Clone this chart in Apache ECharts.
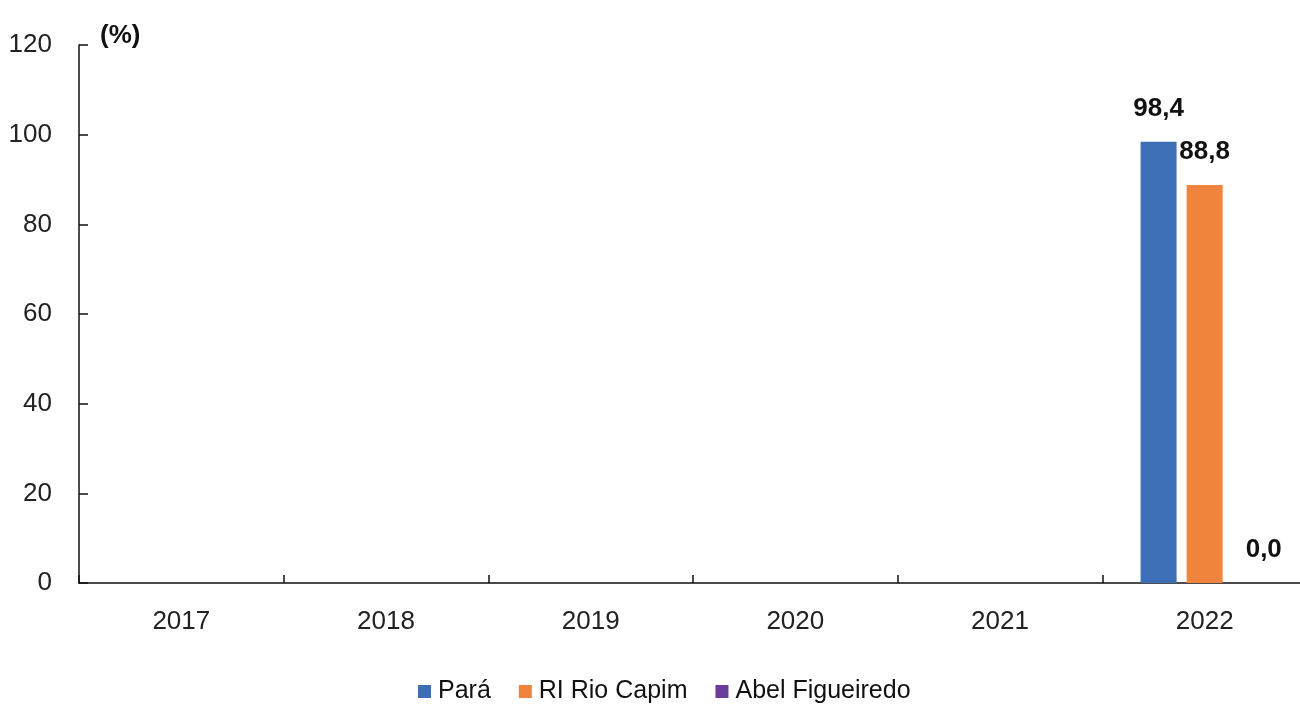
<!DOCTYPE html>
<html><head><meta charset="utf-8">
<script src="https://cdn.jsdelivr.net/npm/echarts@6/dist/echarts.min.js"></script>
<style>html,body{margin:0;padding:0;background:#fff}#c{width:1300px;height:706px}</style>
</head><body><div id="c"></div>
<script>
const categories = ['2017','2018','2019','2020','2021','2022'];
const para = [null,null,null,null,null,98.4];
const riRioCapim = [null,null,null,null,null,88.8];
const abelFigueiredo = [null,null,null,null,null,0.0];
const yTicks = [0,20,40,60,80,100,120];

const FONT = '"Liberation Sans",Arial,sans-serif';
const fmt = p => p.value == null ? '' : p.value.toFixed(1).replace('.', ',');
const lbl = (extra) => Object.assign({show:true, position:'top', distance:20, formatter:fmt,
  fontFamily:FONT, fontWeight:'bold', fontSize:26, color:'#111'}, extra||{});

const chart = echarts.init(document.getElementById('c'), null, {renderer:'canvas'});
chart.setOption({
  animation:false,
  grid:{left:79, width:1228, top:45, height:538, containLabel:false, outerBoundsMode:'none'},
  legend:{top:674, left:413, itemWidth:13, itemHeight:13, itemGap:28, icon:'rect',
    textStyle:{fontFamily:FONT, fontSize:25, color:'#111', padding:[0,0,0,2]},
    data:['Pará','RI Rio Capim','Abel Figueiredo']},
  xAxis:{type:'category', data:categories,
    axisLine:{lineStyle:{color:'#111', width:1.5}},
    axisTick:{show:true, inside:true, length:8, alignWithLabel:false, interval:0, lineStyle:{color:'#111', width:1.5}},
    axisLabel:{fontFamily:FONT, fontSize:26, color:'#222', margin:26}},
  yAxis:{type:'value', min:yTicks[0], max:yTicks[yTicks.length-1], interval:20,
    name:'(%)', nameLocation:'end', nameGap:-4,
    nameTextStyle:{fontFamily:FONT, fontWeight:'bold', fontSize:26, color:'#111', align:'left', padding:[0,0,0,21]},
    splitLine:{show:false},
    axisLine:{show:true, lineStyle:{color:'#111', width:1.5}},
    axisTick:{show:true, inside:true, length:9, lineStyle:{color:'#111', width:1.5}},
    axisLabel:{fontFamily:FONT, fontSize:26, color:'#222', margin:27}},
  series:[
    {name:'Pará', type:'bar', data:para, barWidth:36, barGap:'28%', itemStyle:{color:'#3d6fb6'}, label:lbl()},
    {name:'RI Rio Capim', type:'bar', data:riRioCapim, barWidth:36, barGap:'28%', itemStyle:{color:'#f0843c'}, label:lbl()},
    {name:'Abel Figueiredo', type:'bar', data:abelFigueiredo, barWidth:36, barGap:'28%', itemStyle:{color:'#6a3d9a'}, label:lbl({offset:[13,0]})}
  ]
});
</script></body></html>
